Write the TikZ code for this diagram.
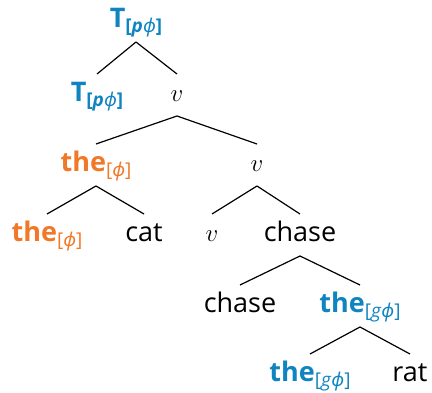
\documentclass[tikz,border=0pt]{standalone}
\usepackage{fontspec}
\setmainfont{Open Sans}
\newfontfamily\phifont{Noto Sans}
\usetikzlibrary{calc}
\definecolor{tblue}{RGB}{16,132,192}
\definecolor{torange}{RGB}{240,120,40}
\newcommand{\fsub}[1]{\raisebox{-5pt}{\fontsize{19}{21}\selectfont #1}}
\newcommand{\ph}{{\phifont\itshape ϕ}}
\tikzset{
  lbl/.style={inner sep=0pt, anchor=base, font=\fontsize{27}{30}\selectfont},
  bl/.style={lbl, text=tblue, font=\fontsize{27}{30}\selectfont\bfseries},
  orl/.style={lbl, text=torange, font=\fontsize{27}{30}\selectfont\bfseries},
  edge/.style={line width=1.2pt, black}
}
\begin{document}
\begin{tikzpicture}[x=1pt,y=1pt]
\useasboundingbox (0,0) rectangle (432,-393);
\node[bl] (root) at (136,-28) {T\fsub{[\textit{p}\ph]}};
\node[bl] (t2) at (97,-102) {T\fsub{[\textit{p}\ph]}};
\node[lbl] (v2) at (177,-102) {$v$};
\node[orl] (the3) at (96,-172) {the\fsub{\mdseries[\ph]}};
\node[lbl] (v3) at (257,-172) {$v$};
\node[orl] (the4) at (47,-242) {the\fsub{\mdseries[\ph]}};
\node[lbl] (cat) at (144,-242) {cat};
\node[lbl] (v4) at (212,-242) {$v$};
\node[lbl] (chase4) at (300,-242) {chase};
\node[lbl] (chase5) at (240,-313) {chase};
\node[bl] (the5) at (360,-313) {the\fsub{\mdseries[\textit{g}\ph]}};
\node[bl] (the6) at (310,-382) {the\fsub{\mdseries[\textit{g}\ph]}};
\node[lbl] (rat) at (410,-382) {rat};
\foreach \p/\c in {root/t2, root/v2, v2/the3, v2/v3, the3/the4, the3/cat, v3/v4, v3/chase4, chase4/chase5, chase4/the5, the5/the6, the5/rat}
  \draw[edge] ($(\p.base)+(0,-14)$) -- ($(\c.base)+(0,28)$);
\end{tikzpicture}
\end{document}
